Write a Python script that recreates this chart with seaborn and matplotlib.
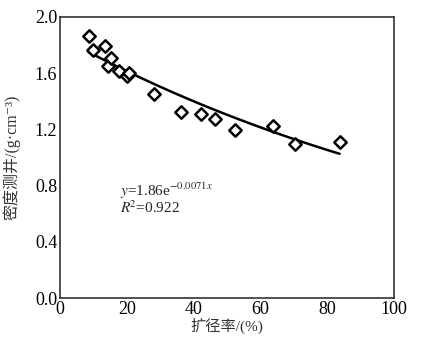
import matplotlib
matplotlib.use('Agg')
import matplotlib.pyplot as plt
import seaborn as sns
import numpy as np
import pandas as pd

# 扩径率 (%) and 密度测井 (g/cm3)
expansion = [8.6, 9.8, 13.5, 14.5, 15.2, 17.7, 20.1, 20.8, 28.1, 36.2,
             42.2, 46.4, 52.3, 63.7, 70.2, 83.7]
density = [1.867, 1.766, 1.794, 1.652, 1.707, 1.615, 1.577, 1.600, 1.452, 1.326,
           1.312, 1.274, 1.199, 1.225, 1.097, 1.113]
fit_a = 1.86
fit_b = -0.0071
x_ticks = [0, 20, 40, 60, 80, 100]
y_ticks = [0.0, 0.4, 0.8, 1.2, 1.6, 2.0]

sns.set_style('white')
plt.rcParams['font.family'] = ['Liberation Serif', 'Noto Sans CJK SC', 'DejaVu Serif']
plt.rcParams['mathtext.fontset'] = 'stix'

df = pd.DataFrame({'x': expansion, 'y': density})
xf = np.linspace(min(expansion), max(expansion), 100)
fit = pd.DataFrame({'x': xf, 'y': fit_a * np.exp(fit_b * xf)})

fig = plt.figure(figsize=(4.21, 3.37), dpi=100)
ax = fig.add_axes([0.1425, 0.115, 0.7935, 0.835])

sns.lineplot(data=fit, x='x', y='y', color='black', linewidth=1.8, ax=ax)
sns.scatterplot(data=df, x='x', y='y', marker='D', s=40, facecolor='white',
                edgecolor='black', linewidth=1.8, ax=ax, zorder=3)

ax.set_xlim(0, 100)
ax.set_ylim(0, 2.0)
ax.set_xticks(x_ticks)
ax.set_yticks(y_ticks)
ax.set_yticklabels([f'{v:.1f}' for v in y_ticks])
ax.tick_params(direction='in', length=4, width=1, labelsize=13, colors='black',
               pad=2)
for s in ax.spines.values():
    s.set_color('#333333')
    s.set_linewidth(1.2)

ax.set_xlabel('扩径率/(%)', fontsize=11, color='#333333', labelpad=0)
ax.set_ylabel('密度测井/(g·cm⁻³)', fontsize=11.5, color='#333333')
ax.yaxis.set_label_coords(-0.118, 0.5)

ax.text(18, 0.76, '$y$=1.86e$^{-0.0071x}$', fontsize=11, va='center')
ax.text(18, 0.64, '$R$$^2$=0.922', fontsize=11, va='center')

fig.savefig('out.png', dpi=100)
